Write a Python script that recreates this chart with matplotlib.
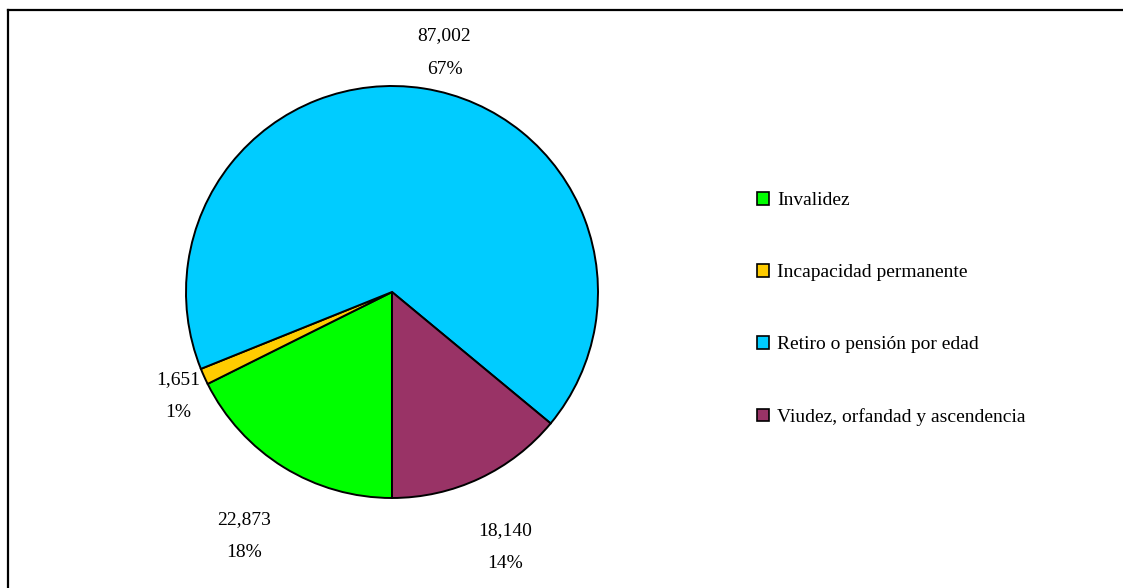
import matplotlib
matplotlib.use("Agg")
import matplotlib.pyplot as plt
import matplotlib.patches as mpatches
from matplotlib.lines import Line2D
import numpy as np

# data
categorias = ['Invalidez', 'Incapacidad permanente', 'Retiro o pensión por edad',
              'Viudez, orfandad y ascendencia']
valores = [22873, 1651, 87002, 18140]
etiquetas_valor = ['22,873', '1,651', '87,002', '18,140']
etiquetas_pct = ['18%', '1%', '67%', '14%']
colores = ['#00ff00', '#ffcc00', '#00ccff', '#993366']

plt.rcParams['font.family'] = ['Liberation Serif', 'DejaVu Serif']

W, H = 1123, 588
fig = plt.figure(figsize=(W / 100, H / 100), dpi=100)

# pie axes: center (392, 292) px, radius 206 px
cx, cy, r = 392, 292, 206
ax = fig.add_axes([(cx - r) / W, (H - cy - r) / H, 2 * r / W, 2 * r / H])
wedges, _ = ax.pie(valores, colors=colores, startangle=270, counterclock=False,
                   radius=1, wedgeprops=dict(edgecolor='black', linewidth=1.4))
ax.set_xlim(-1, 1)
ax.set_ylim(-1, 1)
ax.set_aspect('equal')
ax.axis('off')

# data labels outside the slices (distance, angular nudge in degrees)
dist = [1.385, 1.155, 1.19, 1.355]
nudge = [0.5, 1.7, -3.5, -1.2]
for w, v, p, d, n in zip(wedges, etiquetas_valor, etiquetas_pct, dist, nudge):
    ang = np.deg2rad((w.theta1 + w.theta2) / 2 + n)
    x, y = d * np.cos(ang), d * np.sin(ang)
    ax.text(x, y + 0.08, v, ha='center', va='center', fontsize=14, clip_on=False)
    ax.text(x, y - 0.08, p, ha='center', va='center', fontsize=14, clip_on=False)

# legend
handles = [mpatches.Patch(facecolor=c, edgecolor='black', linewidth=1.2, label=l)
           for c, l in zip(colores, categorias)]
fig.legend(handles=handles, loc='upper left', bbox_to_anchor=(757 / W, 1 - 192 / H),
           frameon=False, fontsize=14, labelspacing=2.82, handlelength=0.62,
           handleheight=0.62, handletextpad=0.4, borderpad=0, borderaxespad=0)

# frame of the chart area (cut on the right and bottom)
fig.add_artist(Line2D([8 / W, 1], [1 - 10 / H, 1 - 10 / H], color='black', lw=1.6,
                      transform=fig.transFigure))
fig.add_artist(Line2D([8 / W, 8 / W], [0, 1 - 10 / H], color='black', lw=1.6,
                      transform=fig.transFigure))

fig.savefig('out.png', dpi=100)
